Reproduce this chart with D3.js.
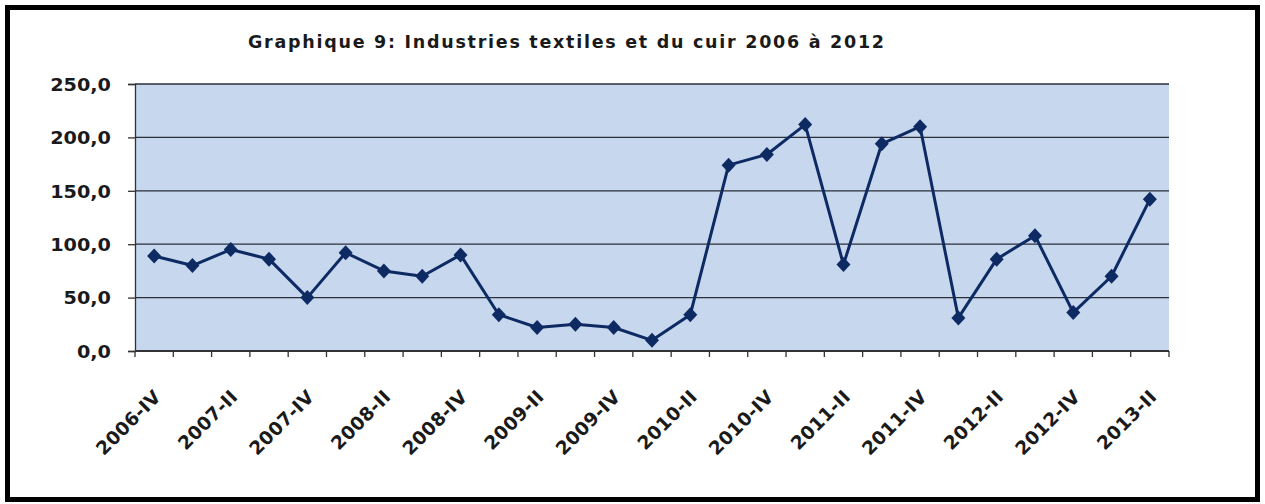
<!DOCTYPE html>
<html>
<head>
<meta charset="utf-8">
<script src="https://cdn.jsdelivr.net/npm/d3@7"></script>
<style>
  html, body { margin: 0; padding: 0; background: #fff; }
  svg { display: block; }
  text { font-family: "DejaVu Sans", Verdana, sans-serif; font-weight: bold; fill: #1a1a1a; }
</style>
</head>
<body>
<svg id="chart" width="1265" height="504"></svg>
<script>
const title = "Graphique 9: Industries textiles et du cuir 2006 à 2012";
const categories = [
  "2006-IV","2007-I","2007-II","2007-III","2007-IV",
  "2008-I","2008-II","2008-III","2008-IV",
  "2009-I","2009-II","2009-III","2009-IV",
  "2010-I","2010-II","2010-III","2010-IV",
  "2011-I","2011-II","2011-III","2011-IV",
  "2012-I","2012-II","2012-III","2012-IV",
  "2013-I","2013-II"
];
const values = [
  89, 80, 95, 86, 50,
  92, 75, 70, 90,
  34, 22, 25, 22,
  10, 34, 174, 184,
  212, 81, 194, 210,
  31, 86, 108, 36,
  70, 142
];
const xTickLabels = ["2006-IV","2007-II","2007-IV","2008-II","2008-IV","2009-II","2009-IV",
  "2010-II","2010-IV","2011-II","2011-IV","2012-II","2012-IV","2013-II"];
const yTicks = [0, 50, 100, 150, 200, 250];

const svg = d3.select("#chart");
const W = 1265, H = 504;
const plot = { left: 135, right: 1169, top: 84, bottom: 351 };

// outer frame
svg.append("rect")
  .attr("x", 7.5).attr("y", 7.5).attr("width", W - 15).attr("height", H - 12)
  .attr("fill", "#fff").attr("stroke", "#000").attr("stroke-width", 5);

const x = d3.scaleBand().domain(categories).range([plot.left, plot.right]).padding(0);
const y = d3.scaleLinear().domain([0, 250]).range([plot.bottom, plot.top]);

// plot background
svg.append("rect")
  .attr("x", plot.left).attr("y", y(250))
  .attr("width", plot.right - plot.left).attr("height", y(0) - y(250))
  .attr("fill", "#c6d7ee");

// gridlines
svg.append("g").selectAll("line").data(yTicks.filter(d => d > 0)).join("line")
  .attr("x1", plot.left).attr("x2", plot.right)
  .attr("y1", d => y(d)).attr("y2", d => y(d))
  .attr("stroke", "#2a2f3a").attr("stroke-width", 1.3);

// y axis
const fmt = d => d3.format(".1f")(d).replace(".", ",");
const yAxis = d3.axisLeft(y).tickValues(yTicks).tickSize(7).tickPadding(0).tickFormat(fmt);
const gy = svg.append("g").attr("transform", `translate(${plot.left},0)`).call(yAxis);
gy.select(".domain").attr("stroke", "#333").attr("stroke-width", 1.3);
gy.selectAll(".tick line").attr("stroke", "#333").attr("stroke-width", 1.3);
gy.selectAll(".tick text").remove();
gy.selectAll(".tick").append("text")
  .attr("text-anchor", "end")
  .attr("dy", "0.36em")
  .attr("transform", "translate(-24,0) scale(1.1,1)")
  .style("font-size", "17.5px")
  .text(d => fmt(d));

// x axis with ticks at category boundaries
const boundaries = categories.map(c => x(c)).concat([plot.right]);
svg.append("line")
  .attr("x1", plot.left).attr("x2", plot.right)
  .attr("y1", plot.bottom).attr("y2", plot.bottom)
  .attr("stroke", "#333").attr("stroke-width", 2);
svg.append("g").selectAll("line").data(boundaries).join("line")
  .attr("x1", d => d).attr("x2", d => d)
  .attr("y1", plot.bottom).attr("y2", plot.bottom + 6)
  .attr("stroke", "#333").attr("stroke-width", 1.3);

// x labels
const bw = x.bandwidth();
svg.append("g").selectAll("text").data(xTickLabels).join("text")
  .attr("text-anchor", "end")
  .attr("transform", d => `translate(${x(d) + bw / 2 + 8},${plot.bottom + 47}) rotate(-45)`)
  .style("font-size", "18.5px")
  .style("letter-spacing", "0.3px")
  .text(d => d);

// line
const cx = d => x(d) + bw / 2;
const line = d3.line().x((d, i) => cx(categories[i])).y(d => y(d));
svg.append("path").datum(values)
  .attr("d", line)
  .attr("fill", "none")
  .attr("stroke", "#0d2a63")
  .attr("stroke-width", 3)
  .attr("stroke-linejoin", "round");

// diamond markers
const dm = (px, py) => `M${px},${py - 7.5}L${px + 7},${py}L${px},${py + 7.5}L${px - 7},${py}Z`;
svg.append("g").selectAll("path").data(values).join("path")
  .attr("d", (d, i) => dm(cx(categories[i]), y(d)))
  .attr("fill", "#0d2a63");

// title
svg.append("text")
  .attr("x", 248).attr("y", 48)
  .attr("textLength", 636).attr("lengthAdjust", "spacing")
  .style("font-size", "17.5px")
  .text(title);
</script>
</body>
</html>
